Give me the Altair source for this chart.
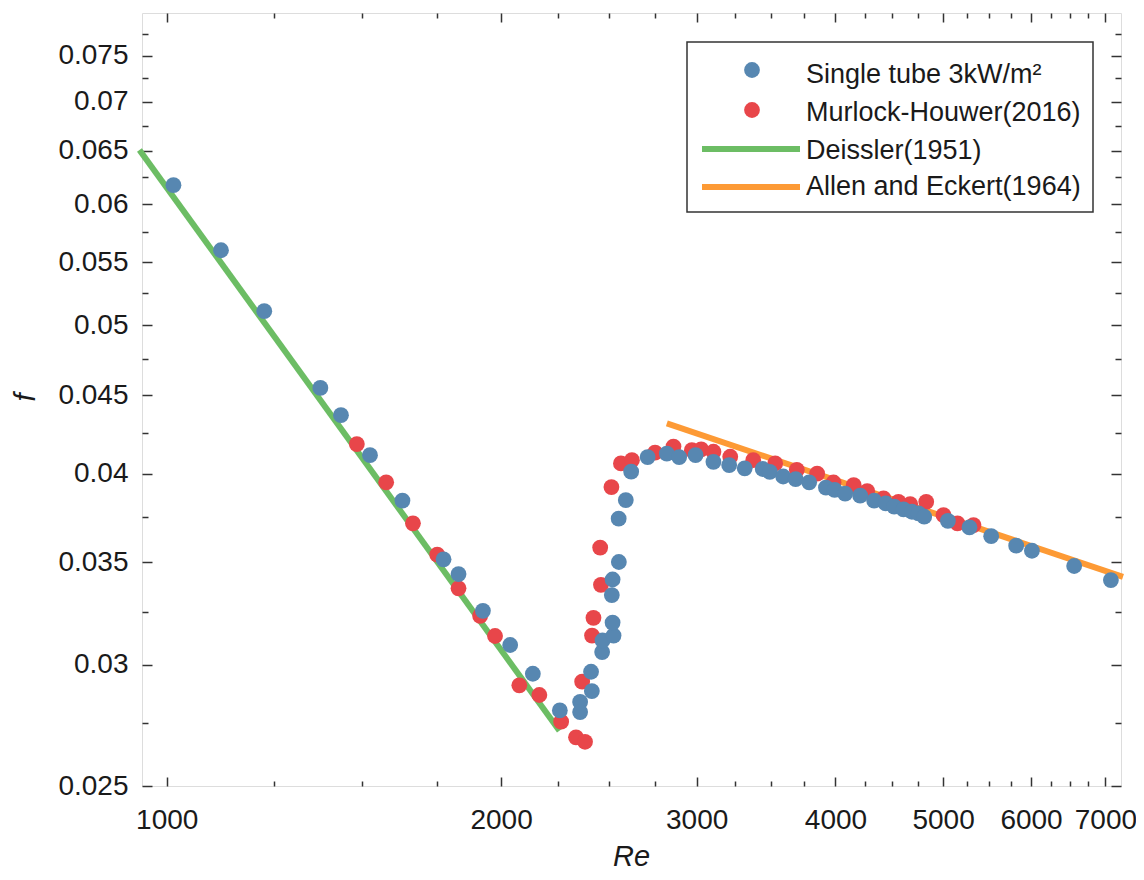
import altair as alt
import pandas as pd

# ---- data ----
single_re = [1014, 1119, 1224, 1375, 1435, 1524, 1630, 1775, 1831, 1926, 2038, 2136, 2259,
             2356, 2356, 2414, 2410, 2466, 2468, 2525, 2520, 2516, 2520, 2553, 2552, 2590,
             2619, 2710, 2820, 2893, 2993, 3106, 3209, 3314, 3440, 3491, 3589, 3683, 3788,
             3922, 3993, 4081, 4210, 4334, 4439, 4518, 4606, 4687, 4751, 4808, 5050, 5281,
             5524, 5818, 6011, 6561, 7080]
single_f = [0.06174, 0.05598, 0.05108, 0.04551, 0.04368, 0.04113, 0.03841, 0.03516, 0.03439,
            0.03254, 0.03091, 0.02960, 0.02801, 0.02837, 0.02794, 0.02884, 0.02969, 0.03058,
            0.03112, 0.03135, 0.03197, 0.03332, 0.03411, 0.03502, 0.03738, 0.03844, 0.04012,
            0.04101, 0.04122, 0.04101, 0.04113, 0.04072, 0.04052, 0.04032, 0.04028, 0.04011,
            0.03983, 0.03967, 0.03948, 0.03917, 0.03904, 0.03882, 0.03870, 0.03841, 0.03825,
            0.03806, 0.03791, 0.03777, 0.03768, 0.03749, 0.03726, 0.03689, 0.03641, 0.03589,
            0.03562, 0.03481, 0.03408]

murlock_re = [1483, 1576, 1666, 1752, 1831, 1915, 1975, 2077, 2165, 2265, 2336, 2380, 2366,
              2415, 2422, 2460, 2456, 2514, 2564, 2623, 2752, 2859, 2970, 3028, 3106, 3216,
              3373, 3530, 3692, 3851, 3984, 4154, 4272, 4419, 4558, 4670, 4828, 5004, 5151, 5325]
murlock_f = [0.04182, 0.03948, 0.03712, 0.03541, 0.03366, 0.03229, 0.03133, 0.02909, 0.02867,
             0.02754, 0.02690, 0.02672, 0.02925, 0.03135, 0.03220, 0.03384, 0.03579, 0.03920,
             0.04062, 0.04082, 0.04129, 0.04166, 0.04144, 0.04149, 0.04134, 0.04103, 0.04082,
             0.04062, 0.04023, 0.04000, 0.03947, 0.03932, 0.03896, 0.03854, 0.03834, 0.03821,
             0.03834, 0.03758, 0.03712, 0.03702]

deissler_re = [945, 2257]
deissler_f = [0.0651, 0.02717]
allen_re = [2820, 7260]
allen_f = [0.04314, 0.03425]

x_major = [1000, 2000, 3000, 4000, 5000, 6000, 7000]
x_minor = [1250, 1500, 1750, 2250, 2500, 2750, 3250, 3500, 3750, 4250, 4500, 4750,
           5250, 5500, 5750, 6250, 6500, 6750]
y_major = [0.025, 0.03, 0.035, 0.04, 0.045, 0.05, 0.055, 0.06, 0.065, 0.07, 0.075]
y_minor = [0.0275, 0.0325, 0.0375, 0.0425, 0.0475, 0.0525, 0.0575, 0.0625, 0.0675,
           0.0725, 0.0775]

legend_labels = ["Single tube 3kW/m\u00b2", "Murlock-Houwer(2016)", "Deissler(1951)",
                 "Allen and Eckert(1964)"]

# ---- style ----
W, H = 979, 773
FONT = "Liberation Sans"
TXT = "#1a1a1a"
AX = "#333333"
BLUE = "#5787b1"
RED = "#e8464a"
GREEN = "#6cbd64"
ORANGE = "#fd9a35"

xs = alt.Scale(type="log", domain=[950, 7230], nice=False)
ys = alt.Scale(type="log", domain=[0.025, 0.08], nice=False)

df_single = pd.DataFrame({"Re": single_re, "f": single_f})
df_mur = pd.DataFrame({"Re": murlock_re, "f": murlock_f})
df_dei = pd.DataFrame({"Re": deissler_re, "f": deissler_f})
df_all = pd.DataFrame({"Re": allen_re, "f": allen_f})


def tick_axis(orient, offset, values, size):
    return alt.Axis(orient=orient, offset=offset, values=values, labels=False,
                    tickSize=size, tickWidth=1.5, tickColor=AX, domain=False,
                    grid=False, title=None)


# main label axes
x_lab = alt.Axis(orient="bottom", values=x_major, format="d", ticks=False, domain=False,
                 grid=False, labelFont=FONT, labelFontSize=28, labelColor=TXT,
                 labelPadding=20, labelFlush=False, labelOverlap=False,
                 title="Re", titleFont=FONT, titleFontSize=29, titleFontStyle="italic",
                 titleFontWeight="normal", titleColor=TXT, titleX=489, titleY=70,
                 titleBaseline="middle", titleAlign="center")
y_lab = alt.Axis(orient="left", values=y_major, format="~g", ticks=False, domain=False,
                 grid=False, labelFont=FONT, labelFontSize=28, labelColor=TXT,
                 labelPadding=14, labelFlush=False, labelOverlap=False,
                 title="f", titleFont=FONT, titleFontSize=29, titleFontStyle="italic",
                 titleFontWeight="normal", titleColor=TXT, titleX=-117, titleY=384,
                 titleAngle=270, titleBaseline="middle", titleAlign="center")

green = alt.Chart(df_dei).mark_line(color=GREEN, strokeWidth=6).encode(
    x=alt.X("Re:Q", scale=xs, axis=tick_axis("top", -H, x_minor, 5)),
    y=alt.Y("f:Q", scale=ys, axis=tick_axis("right", -W, y_minor, 6)),
)
orange = alt.Chart(df_all).mark_line(color=ORANGE, strokeWidth=6).encode(
    x=alt.X("Re:Q", scale=xs, axis=tick_axis("bottom", -H, x_major, 9)),
    y=alt.Y("f:Q", scale=ys, axis=tick_axis("left", -W, y_major, 10)),
)
red = alt.Chart(df_mur).mark_circle(color=RED, size=250, opacity=1).encode(
    x=alt.X("Re:Q", scale=xs, axis=tick_axis("top", -H, x_major, 9)),
    y=alt.Y("f:Q", scale=ys, axis=tick_axis("right", -W, y_major, 10)),
)
blue = alt.Chart(df_single).mark_circle(color=BLUE, size=250, opacity=1).encode(
    x=alt.X("Re:Q", scale=xs, axis=x_lab),
    y=alt.Y("f:Q", scale=ys, axis=y_lab),
)
ghost = alt.Chart(df_single).mark_circle(opacity=0).encode(
    x=alt.X("Re:Q", scale=xs, axis=tick_axis("bottom", -H, x_minor, 5)),
    y=alt.Y("f:Q", scale=ys, axis=tick_axis("left", -W, y_minor, 6)),
)

# ---- legend box ----
one = alt.Data(values=[{"k": 0}])
box = alt.Chart(one).mark_rect(fill="white", stroke=AX, strokeWidth=1.5).encode(
    x=alt.value(545), x2=alt.value(951), y=alt.value(29), y2=alt.value(199))
leg_dot1 = alt.Chart(one).mark_circle(color=BLUE, size=250, opacity=1).encode(
    x=alt.value(610), y=alt.value(57))
leg_dot2 = alt.Chart(one).mark_circle(color=RED, size=250, opacity=1).encode(
    x=alt.value(610), y=alt.value(97))
leg_l1 = alt.Chart(one).mark_rule(color=GREEN, strokeWidth=6).encode(
    x=alt.value(560), x2=alt.value(658), y=alt.value(136))
leg_l2 = alt.Chart(one).mark_rule(color=ORANGE, strokeWidth=6).encode(
    x=alt.value(560), x2=alt.value(658), y=alt.value(174))

leg_texts = []
for lab, yy in zip(legend_labels, [62, 100, 138, 174]):
    leg_texts.append(
        alt.Chart(alt.Data(values=[{"t": lab}])).mark_text(
            align="left", baseline="middle", font=FONT, fontSize=27, color=TXT
        ).encode(x=alt.value(664), y=alt.value(yy), text="t:N")
    )

chart = alt.layer(
    green, orange, red, blue, ghost, box, leg_dot1, leg_dot2, leg_l1, leg_l2, *leg_texts
).resolve_axis(x="independent", y="independent").properties(
    width=W, height=H,
    autosize=alt.AutoSizeParams(type="none"),
    padding={"left": 134, "top": 5, "right": 15, "bottom": 90},
).configure_view(stroke=AX, strokeWidth=1.5).configure(background="white")

chart.save("out.html", embed_options={"renderer": "svg", "actions": False})
